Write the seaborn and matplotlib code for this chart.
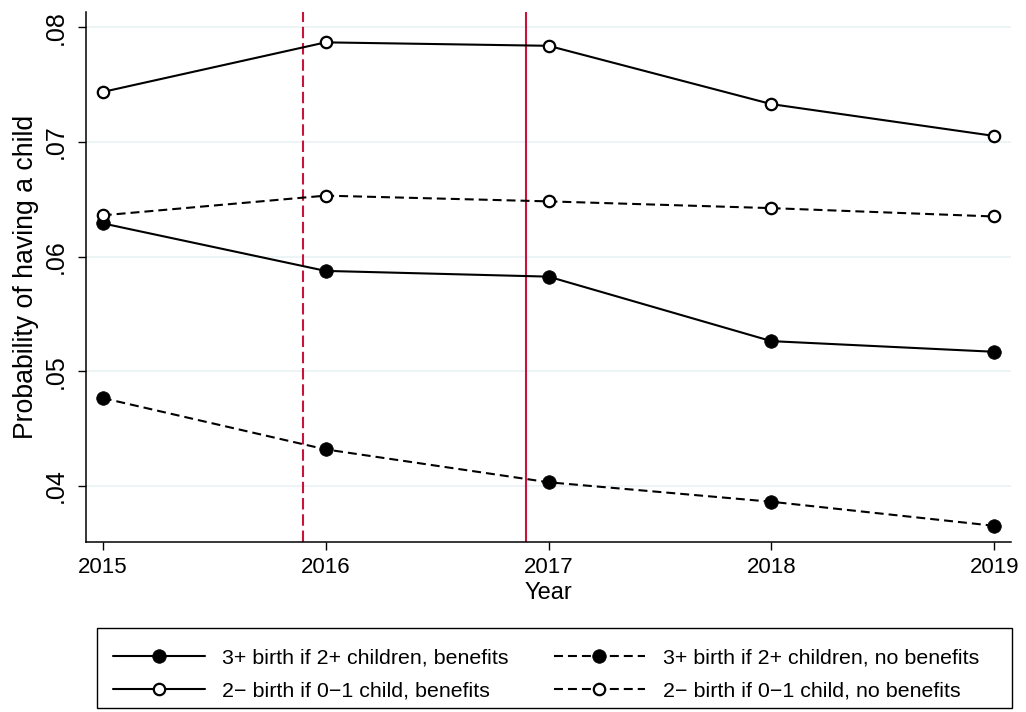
import matplotlib
matplotlib.use("Agg")
import matplotlib.pyplot as plt
from matplotlib.ticker import FuncFormatter, FixedLocator
from matplotlib.font_manager import FontProperties
from matplotlib.patches import Rectangle
import seaborn as sns
import pandas as pd

# Birth probabilities by year and group
years = [2015, 2016, 2017, 2018, 2019]
third_benefits = [0.0629, 0.05875, 0.05825, 0.05262, 0.05169]
third_no_benefits = [0.04765, 0.04317, 0.0403, 0.0386, 0.0365]
second_benefits = [0.07437, 0.0787, 0.0784, 0.07331, 0.07053]
second_no_benefits = [0.0636, 0.06532, 0.06482, 0.06423, 0.0635]

labels = [
    "3+ birth if 2+ children, benefits",
    "2\u2212 birth if 0\u22121 child, benefits",
    "3+ birth if 2+ children, no benefits",
    "2\u2212 birth if 0\u22121 child, no benefits",
]
y_ticks = [0.04, 0.05, 0.06, 0.07, 0.08]
x_ticks = years
reform_announced = 2015.9
reform_in_force = 2016.9

sns.set_theme(style="ticks")
FAMILY = ["Liberation Sans", "DejaVu Sans"]
plt.rcParams["font.family"] = FAMILY
for key in ["text.color", "axes.labelcolor", "xtick.color", "ytick.color"]:
    plt.rcParams[key] = "black"

fig = plt.figure(figsize=(10.26, 7.12), dpi=100)
W, H = 1026, 712
ax = fig.add_axes([86 / W, (H - 542.3) / H, (1011 - 86) / W, (542.3 - 12) / H])

df = pd.DataFrame({
    "year": years * 4,
    "value": third_benefits + second_benefits + third_no_benefits + second_no_benefits,
    "group": sum([[lab] * len(years) for lab in labels], []),
})

solid_lw = 1.5
dash_pattern = (0, (4.3, 2.4))
styles = {
    labels[0]: dict(linestyle="-", marker="o", markersize=9.8, markerfacecolor="black",
                    markeredgecolor="black", markeredgewidth=0.5),
    labels[1]: dict(linestyle="-", marker="o", markersize=8.2, markerfacecolor="white",
                    markeredgecolor="black", markeredgewidth=1.6),
    labels[2]: dict(linestyle=dash_pattern, marker="o", markersize=9.8, markerfacecolor="black",
                    markeredgecolor="black", markeredgewidth=0.5),
    labels[3]: dict(linestyle=dash_pattern, marker="o", markersize=8.2, markerfacecolor="white",
                    markeredgecolor="black", markeredgewidth=1.6),
}

# reform lines
ax.axvline(reform_announced, color="#C8143C", lw=1.5, linestyle=(0, (5.5, 2.3)), zorder=1)
ax.axvline(reform_in_force, color="#C8143C", lw=1.5, linestyle="-", zorder=1)

for lab in labels:
    sub = df[df["group"] == lab]
    sns.lineplot(data=sub, x="year", y="value", ax=ax, color="black", lw=solid_lw,
                 label=lab, zorder=3, **styles[lab])

ax.set_xlim(2014.925, 2019.075)
ax.set_ylim(0.03506, 0.08135)
ax.xaxis.set_major_locator(FixedLocator(x_ticks))
ax.yaxis.set_major_locator(FixedLocator(y_ticks))
ax.xaxis.set_major_formatter(FuncFormatter(lambda v, p: f"{int(round(v))}"))
ax.yaxis.set_major_formatter(FuncFormatter(lambda v, p: f"{v:.2f}".lstrip("0")))

ax.grid(axis="y", color="#EAF2F3", lw=1.2, zorder=0)
ax.grid(axis="x", visible=False)
ax.set_axisbelow(True)

for side in ["top", "right"]:
    ax.spines[side].set_visible(False)
for side in ["left", "bottom"]:
    ax.spines[side].set_color("black")
    ax.spines[side].set_linewidth(1.1)

ax.tick_params(axis="both", direction="out", length=5.8, width=1.0, color="black")
ax.tick_params(axis="x", labelsize=16, pad=5)
ax.tick_params(axis="y", labelsize=18.0, pad=7, labelrotation=90)
for t in ax.get_yticklabels():
    t.set_verticalalignment("center")

ax.set_xlabel("Year", fontsize=17, labelpad=3)
ax.set_ylabel("Probability of having a child", fontsize=19.2, labelpad=4)

# Legend below the plot: two columns inside a box spanning the plot width
handles, hl = ax.get_legend_handles_labels()
order = [hl.index(l) for l in labels]
leg = fig.legend([handles[i] for i in order], [hl[i] for i in order],
                 ncol=2, loc="upper left",
                 bbox_to_anchor=(113 / W, (H - 648) / H),
                 prop=FontProperties(family=FAMILY, size=15.4),
                 handlelength=4.3, handletextpad=0.8, labelspacing=0.7,
                 columnspacing=2.1, borderpad=0, borderaxespad=0, frameon=False)
if ax.get_legend() is not None:
    ax.get_legend().remove()

fig.patches.append(Rectangle((97 / W, (H - 708) / H), (1012 - 97) / W, 80 / H,
                             transform=fig.transFigure, fill=False,
                             edgecolor="black", lw=1.0))

fig.savefig("out.png", dpi=100)
